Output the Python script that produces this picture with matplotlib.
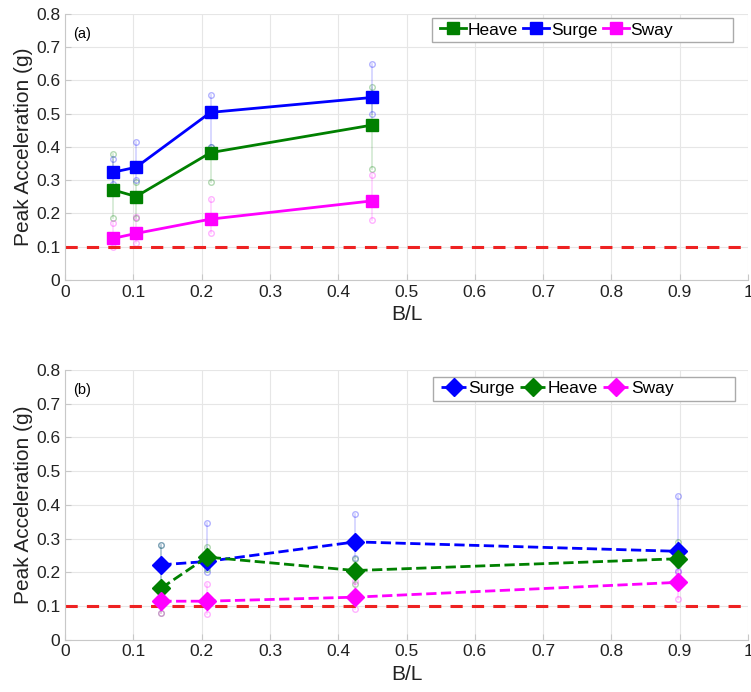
import numpy as np
import matplotlib.pyplot as plt
from matplotlib.patches import Rectangle

plt.rcParams['font.family'] = ['Liberation Sans', 'DejaVu Sans']

# panel (a)
xa = [0.07, 0.104, 0.213, 0.45]
heave_a = [0.271, 0.251, 0.383, 0.466]
heave_a_lo = [0.185, 0.185, 0.295, 0.335]
heave_a_hi = [0.38, 0.295, 0.40, 0.58]
surge_a = [0.324, 0.339, 0.504, 0.549]
surge_a_lo = [0.29, 0.30, 0.40, 0.50]
surge_a_hi = [0.365, 0.415, 0.555, 0.65]
sway_a = [0.125, 0.140, 0.183, 0.238]
sway_a_lo = [0.10, 0.11, 0.14, 0.18]
sway_a_hi = [0.17, 0.19, 0.245, 0.315]

# panel (b)
xb = [0.141, 0.208, 0.425, 0.898]
surge_b = [0.222, 0.232, 0.29, 0.262]
surge_b_lo = [0.165, 0.20, 0.243, 0.205]
surge_b_hi = [0.28, 0.345, 0.373, 0.425]
heave_b = [0.153, 0.245, 0.205, 0.24]
heave_b_lo = [0.08, 0.21, 0.165, 0.22]
heave_b_hi = [0.28, 0.275, 0.24, 0.29]
sway_b = [0.114, 0.114, 0.126, 0.17]
sway_b_lo = [0.08, 0.075, 0.09, 0.12]
sway_b_hi = [0.165, 0.165, 0.175, 0.20]

threshold = 0.1
green = '#008000'
blue = '#0000ff'
magenta = '#ff00ff'

fig = plt.figure(figsize=(7.51, 6.92), dpi=100)
ax1 = fig.add_axes([0.0866, 0.5954, 0.9095, 0.3844])
ax2 = fig.add_axes([0.0866, 0.0757, 0.9095, 0.3896])


def spread(ax, x, lo, hi, c):
    for xi, l, h in zip(x, lo, hi):
        ax.plot([xi, xi], [l, h], color=c, alpha=0.18, lw=1.2, zorder=1)
        ax.plot([xi, xi], [l, h], 'o', mfc='none', mec=c, alpha=0.3, ms=4, zorder=1)


def style(ax, tag):
    ax.set_xlim(0, 1)
    ax.set_ylim(0, 0.8)
    ax.set_xticks(np.arange(0, 1.01, 0.1))
    ax.set_xticklabels(['0', '0.1', '0.2', '0.3', '0.4', '0.5', '0.6', '0.7', '0.8', '0.9', '1'])
    ax.set_yticks(np.arange(0, 0.81, 0.1))
    ax.set_yticklabels(['0', '0.1', '0.2', '0.3', '0.4', '0.5', '0.6', '0.7', '0.8'])
    ax.grid(True, color='#e6e6e6', lw=0.8)
    ax.set_axisbelow(True)
    for s in ['top', 'right']:
        ax.spines[s].set_visible(False)
    for s in ['left', 'bottom']:
        ax.spines[s].set_color('#c8c8c8')
    ax.tick_params(labelsize=12.5, colors='#c8c8c8', labelcolor='#222222', length=4, direction='in')
    ax.set_xlabel('B/L', fontsize=15, color='#222222', labelpad=4)
    ax.set_ylabel('Peak Acceleration (g)', fontsize=15, color='#222222', labelpad=2)
    ax.text(0.012, 0.95, tag, transform=ax.transAxes, fontsize=10.5, va='top')
    ax.axhline(threshold, color='#ee2222', ls=(0, (4, 3)), lw=2.2, zorder=2)


spread(ax1, xa, heave_a_lo, heave_a_hi, green)
spread(ax1, xa, surge_a_lo, surge_a_hi, blue)
spread(ax1, xa, sway_a_lo, sway_a_hi, magenta)
ax1.plot(xa, heave_a, '-s', color=green, lw=2, ms=8, label='Heave', zorder=3)
ax1.plot(xa, surge_a, '-s', color=blue, lw=2, ms=8, label='Surge', zorder=3)
ax1.plot(xa, sway_a, '-s', color=magenta, lw=2, ms=8, label='Sway', zorder=3)
style(ax1, '(a)')

spread(ax2, xb, surge_b_lo, surge_b_hi, blue)
spread(ax2, xb, heave_b_lo, heave_b_hi, green)
spread(ax2, xb, sway_b_lo, sway_b_hi, magenta)
ax2.plot(xb, surge_b, '--D', color=blue, lw=2, ms=9, label='Surge', zorder=3)
ax2.plot(xb, heave_b, '--D', color=green, lw=2, ms=9, label='Heave', zorder=3)
ax2.plot(xb, sway_b, '--D', color=magenta, lw=2, ms=9, label='Sway', zorder=3)
style(ax2, '(b)')

# MATLAB-like legend box: wide frame, entries packed to the left
for ax, box in ((ax1, (0.537, 0.895, 0.441, 0.09)), (ax2, (0.538, 0.885, 0.443, 0.09))):
    ax.add_patch(Rectangle(box[:2], box[2], box[3], transform=ax.transAxes,
                           fc='white', ec='#aaaaaa', lw=1.0, zorder=4))
    leg = ax.legend(loc='center left', ncol=3, fontsize=12.5, handlelength=1.5,
                    handletextpad=0.1, columnspacing=0.3, frameon=False,
                    bbox_to_anchor=(box[0] + 0.012, box[1] + box[3] / 2),
                    borderaxespad=0, borderpad=0)
    leg.set_zorder(5)

plt.savefig('out.png', dpi=100, facecolor='white')
